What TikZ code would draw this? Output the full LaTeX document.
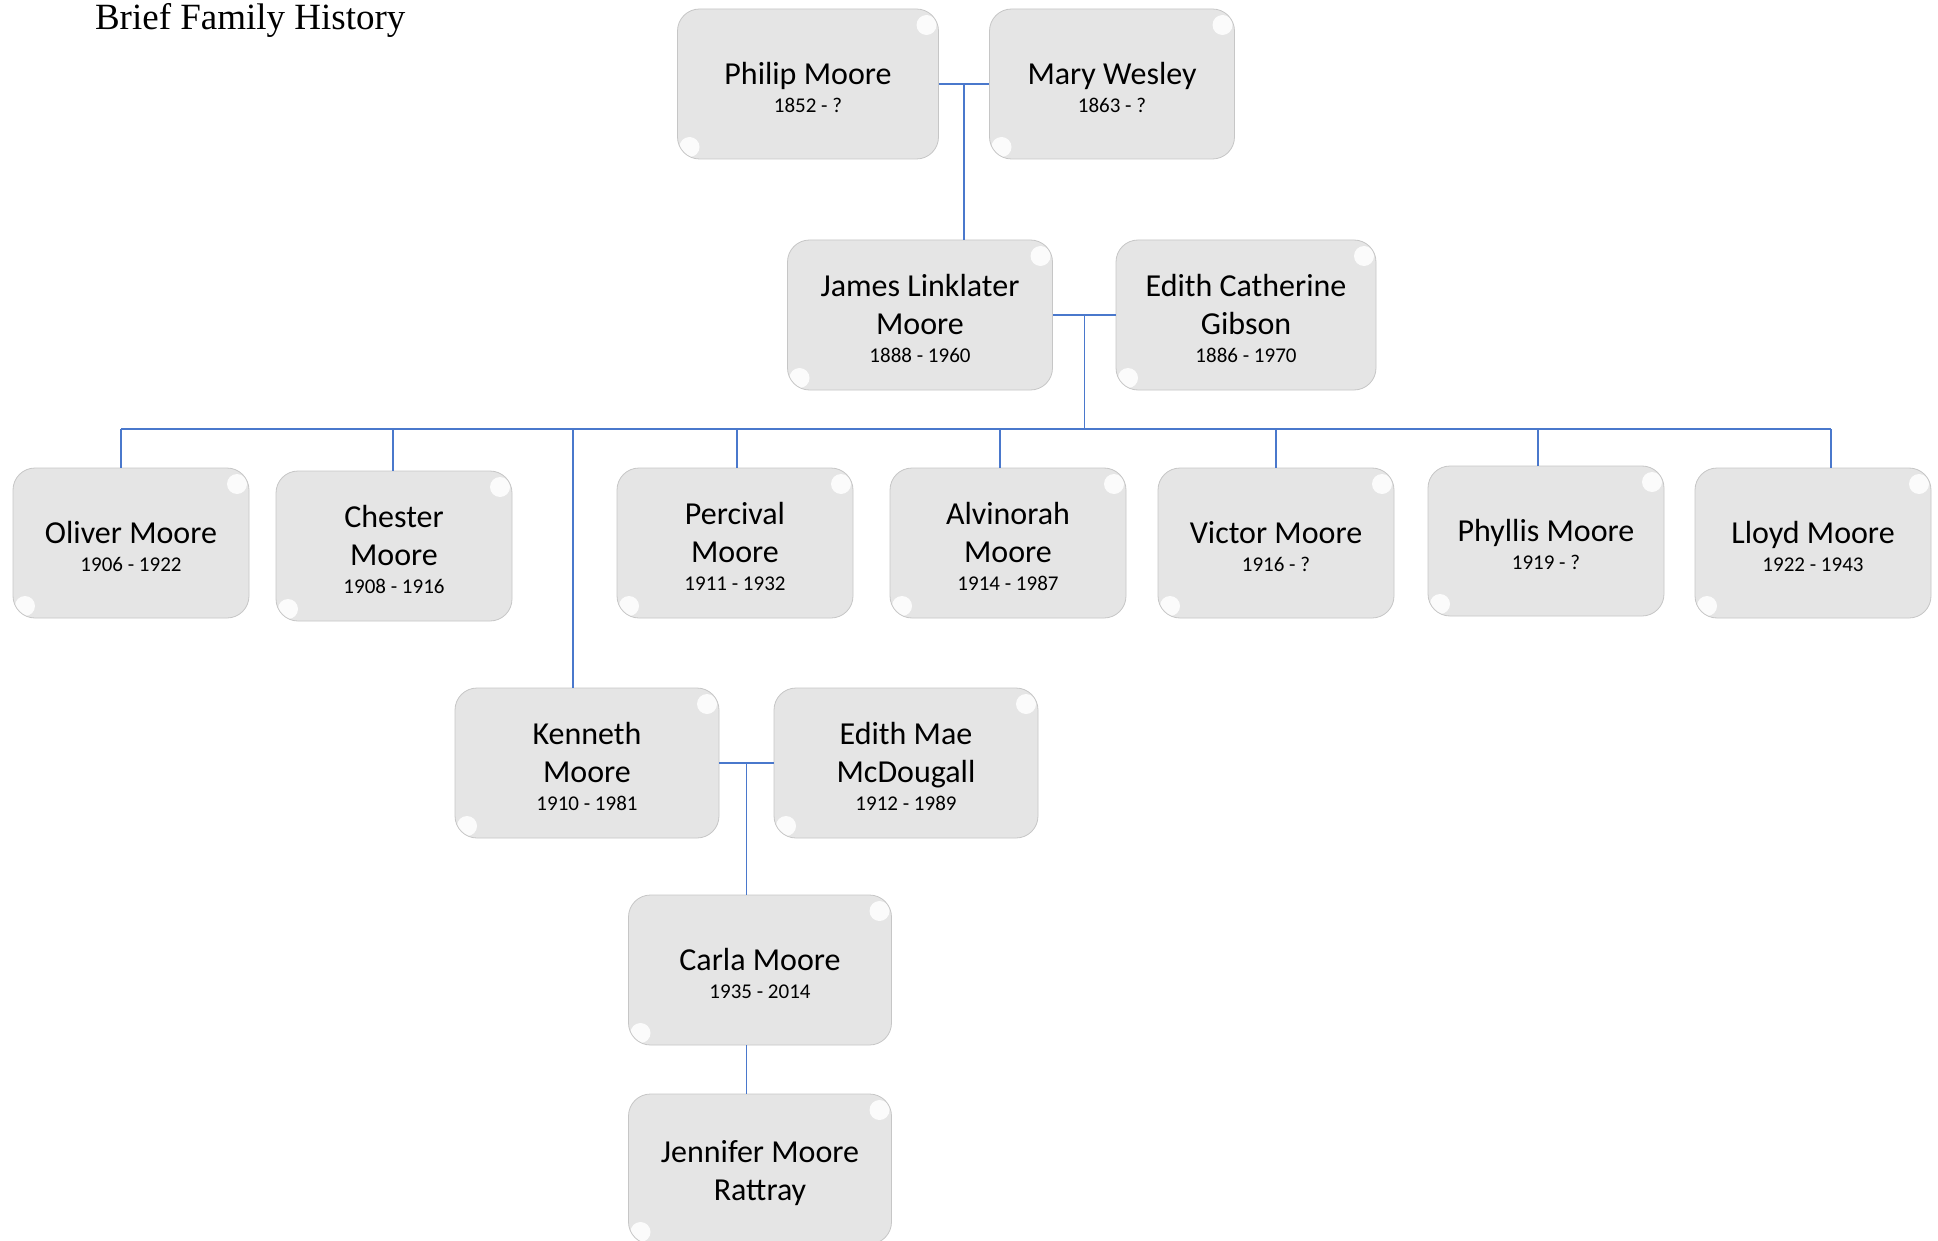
\documentclass[tikz,border=0pt]{standalone}
\usepackage{fontspec}
\setmainfont{Carlito}
\newfontfamily\titlefont{Liberation Serif}
\usepackage{tikz}
\usetikzlibrary{calc}
\usepackage{xcolor}
\definecolor{linkblue}{HTML}{4A78CC}
\newcommand{\yrs}[1]{\\[-5pt]{\fontsize{10.5}{13}\selectfont #1}}
\newcommand{\strt}{\rule{0pt}{15pt}}

\begin{document}
\begin{tikzpicture}[x=0.5pt,y=-0.5pt,
  person/.style={draw=gray!45,fill=gray!20,rounded corners=11pt,minimum width=118pt,minimum height=75pt,
    inner sep=0pt,align=center,font=\fontsize{16}{19}\selectfont,
    path picture={\fill[white,opacity=0.85] ($(path picture bounding box.north east)+(-6pt,-8pt)$) circle (5pt);
      \fill[white,opacity=0.85] ($(path picture bounding box.south west)+(6pt,6pt)$) circle (5pt);}},
  link/.style={draw=linkblue,line width=0.75pt}]
\useasboundingbox (0,0) rectangle (1938,1241);
\node[anchor=base west,font=\titlefont\fontsize{18.5}{22}\selectfont] (title) at (88,30) {Brief Family History};
% grandparents
\node[person,minimum width=130.5pt] (philip) at (808,84) {\strt Philip Moore\yrs{1852 - ?}};
\node[person,minimum width=122.5pt] (mary) at (1112,84) {\strt Mary Wesley\yrs{1863 - ?}};
% parents
\node[person,minimum width=132.5pt] (james) at (920,315) {\strt James Linklater\\Moore\yrs{1888 - 1960}};
\node[person,minimum width=130pt] (edith) at (1246,315) {\strt Edith Catherine\\Gibson\yrs{1886 - 1970}};
% children
\coordinate (bus) at (0,429);
\node[person] (oliver) at (131,543) {\strt Oliver Moore\yrs{1906 - 1922}};
\node[person] (chester) at (394,546) {\strt Chester\\Moore\yrs{1908 - 1916}};
\node[person] (percival) at (735,543) {\strt Percival\\Moore\yrs{1911 - 1932}};
\node[person] (alvinorah) at (1008,543) {\strt Alvinorah\\Moore\yrs{1914 - 1987}};
\node[person] (victor) at (1276,543) {\strt Victor Moore\yrs{1916 - ?}};
\node[person] (phyllis) at (1546,541) {\strt Phyllis Moore\yrs{1919 - ?}};
\node[person] (lloyd) at (1813,543) {\strt Lloyd Moore\yrs{1922 - 1943}};
\node[person,minimum width=132pt] (kenneth) at (587,763) {\strt Kenneth\\Moore\yrs{1910 - 1981}};
\node[person,minimum width=132pt] (edithmae) at (906,763) {\strt Edith Mae\\McDougall\yrs{1912 - 1989}};
% descendants
\node[person,minimum width=131.5pt] (carla) at (760,970) {\strt Carla Moore\yrs{1935 - 2014}};
\node[person,minimum width=131.5pt] (jennifer) at (760,1169) {\strt Jennifer Moore\\Rattray};

\draw[link] (philip) -- (mary) coordinate[midway] (pm);
\draw[link] (pm) -- (pm |- james.north);
\draw[link] (james) -- (edith) coordinate[midway] (je);
\draw[link] (je) -- (je |- bus);
\draw[link] ($(oliver.north |- bus)+(-10,0)$) -- ($(lloyd.north |- bus)+(18,0)$);
\foreach \n/\dx in {oliver/-10,chester/-1,percival/2,alvinorah/-8,victor/0,phyllis/-8,lloyd/18,kenneth/-14}
  \draw[link] ($(\n.north)+(\dx,0)$) -- ($(\n.north |- bus)+(\dx,0)$);
\draw[link] (kenneth) -- (edithmae) coordinate[midway] (ke);
\draw[link] (ke) -- (ke |- carla.north);
\draw[link] (ke |- carla.south) -- (ke |- jennifer.north);
\end{tikzpicture}
\end{document}
